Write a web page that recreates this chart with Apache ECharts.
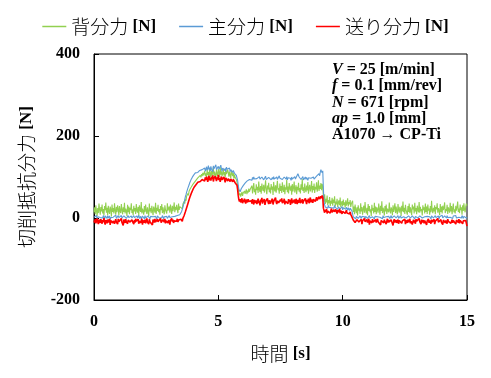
<!DOCTYPE html>
<html><head><meta charset="utf-8">
<script src="https://cdn.jsdelivr.net/npm/echarts@6/dist/echarts.min.js"></script>
<style>html,body{margin:0;padding:0;background:#fff}#c{width:491px;height:378px}</style>
</head><body><div id="c"></div>
<script>
var seriesNames = ['背分力', '主分力', '送り分力'];
var xTicks = [0, 5, 10, 15];
var yTicks = [-200, 0, 200, 400];
var notes = ['V = 25 [m/min]', 'f = 0.1 [mm/rev]', 'N = 671 [rpm]', 'ap = 1.0 [mm]', 'A1070 → CP-Ti'];
var tStart = 0, tEnd = 15;

var green = [
14,26,9,31,18,5,24,12,35,20,
8,27,16,33,11,22,6,29,19,38,
13,25,7,30,17,10,28,21,4,33,
15,24,11,36,19,8,27,14,31,22,
6,29,17,12,34,20,9,26,15,37,
11,23,18,5,32,14,28,9,25,19,
36,12,21,7,30,16,24,10,34,18,
13,27,6,31,20,15,39,11,23,17,
8,29,14,33,19,10,26,22,5,35,
16,24,12,30,18,7,28,21,13,37,
10,25,17,32,14,22,8,29,19,34,
12,26,16,9,31,20,24,11,36,18,
15,28,13,33,21,10,30,17,25,38,
14,27,19,32,22,12,35,20,28,24,
31,
28,22,34,30,40,35,47,42,53,49,
60,55,66,62,72,68,77,73,82,78,
86,83,90,87,94,91,98,95,101,97,
104,99,107,102,110,104,
100,114,103,109,97,118,105,112,101,121,
107,99,115,104,110,124,102,113,106,98,
117,108,103,119,111,100,125,106,114,102,
109,120,104,112,99,116,107,103,118,110,
101,113,105,97,115,108,102,111,96,106,
99,103,94,98,
90,74,62,55,60,52,58,64,54,61,
57,66,59,63,70,58,67,62,72,64,
69,66,
65,79,60,74,85,63,71,57,82,68,
76,61,89,70,64,78,59,84,72,66,
81,62,75,92,67,58,79,70,86,63,
74,60,83,69,77,56,88,71,65,80,
62,76,91,68,73,59,84,66,78,61,
87,70,64,81,58,75,69,93,63,77,
60,85,72,67,79,57,83,65,74,89,
62,71,80,58,76,68,86,64,73,60,
82,69,95,66,75,61,84,70,63,79,
67,88,59,74,81,65,72,90,62,78,
68,84,61,76,70,87,64,73,92,66,
79,71,85,68,83,76,
52,40,58,34,47,38,55,31,44,36,
51,29,42,35,49,30,45,37,53,28,
40,33,47,27,38,43,31,50,26,36,
41,29,45,32,38,25,43,30,36,48,
28,39,33,44,27,35,31,42,
15,28,9,33,20,12,26,6,31,18,
23,10,36,16,27,8,22,30,13,39,
19,11,25,7,34,17,29,14,21,5,
32,18,24,11,37,15,28,9,26,20,
13,35,22,8,30,17,41,12,25,19,
6,29,16,33,10,23,27,14,38,18,
11,26,21,7,31,15,24,36,12,28,
17,9,34,20,13,27,22,5,30,16,
40,14,25,10,32,19,23,8,29,15,
35,12,26,18,7,33,21,28,11,37,
16,24,9,30,20,14,39,13,27,17,
22,6,31,19,26,11,35,15,28,10,
33,18,23,8,29,14,42,20,12,25,
16,31,9,27,21,36,13,24,18,7,
34,15,28,11,30,19,25,38,12,22,
17,32,10,26,20,13,37,16,29,9,
24,35,14,21,11,30,18,27,40,15,
23,12,33,19,26,8,31,17,36,21,
14,28,35,30
];

var blue = [
2,-2,5,0,6,-3,3,1,7,-1,
1,4,-2,3,0,6,2,-3,5,1,
3,-1,6,0,2,5,-4,1,4,0,
3,2,-2,5,1,7,-1,3,0,6,
1,4,-2,2,6,0,3,-3,5,1,
4,2,-1,3,0,6,1,-2,4,2,
5,0,3,-2,6,1,4,-1,2,5,
0,3,7,-1,2,4,-3,1,5,2,
3,-2,6,0,4,1,-1,5,2,3,
-2,4,1,6,0,3,-1,5,2,4,
1,-3,5,2,7,0,3,-1,4,1,
6,2,-2,3,1,5,0,4,-1,3,
2,6,1,4,0,5,3,7,2,6,
4,8,5,7,6,9,7,10,8,11,
12,
16,20,26,32,39,45,52,57,63,68,
73,77,81,86,89,93,96,99,101,104,
106,108,110,109,112,113,111,115,114,116,
113,117,115,118,116,119,
117,122,114,120,125,116,121,128,118,123,
115,126,119,122,113,127,120,117,124,130,
118,121,115,126,119,123,116,129,120,114,
122,118,125,116,121,113,124,119,115,120,
117,122,113,118,115,119,111,116,112,109,
113,107,104,100,
92,80,70,66,64,68,72,70,76,79,
82,80,85,88,86,90,89,93,91,94,
92,96,
96,92,99,94,100,95,97,91,99,96,
94,98,93,101,95,97,92,100,96,99,
93,97,95,102,94,98,96,91,99,95,
97,100,93,96,99,94,101,95,98,92,
96,100,94,98,95,103,97,93,99,96,
94,98,92,100,96,97,95,101,93,98,
96,94,99,97,92,100,95,98,94,97,
101,95,98,93,97,108,112,100,96,99,
94,98,95,101,93,97,96,100,94,99,
95,92,98,96,101,94,97,99,93,96,
100,95,98,94,97,102,99,104,100,108,
103,112,118,121,110,115,
70,40,32,27,30,25,29,24,31,26,
28,23,30,25,27,22,29,24,31,26,
23,28,25,21,27,24,29,22,26,23,
28,20,25,22,27,24,21,26,23,19,
25,22,18,24,20,23,17,21,
3,0,5,1,-2,4,2,6,-1,3,
0,5,2,-1,4,1,6,0,3,-2,
4,2,5,-1,3,1,6,0,2,4,
-1,3,5,1,-2,4,2,0,6,3,
1,-1,4,2,5,0,3,-2,6,1,
4,2,-1,3,0,5,2,4,1,-1,
3,6,0,2,4,-2,5,1,3,0,
4,2,6,-1,3,1,5,0,2,4,
-1,3,1,6,2,0,4,3,-2,5,
2,4,0,3,-1,5,1,6,2,-2,
4,1,3,7,0,2,-1,5,3,1,
6,0,4,2,-2,3,5,1,-1,4,
2,6,0,3,1,-2,5,2,4,0,
3,-1,6,1,4,2,0,5,-2,3,
1,4,2,7,0,3,-1,5,2,4,
0,6,1,3,-2,4,2,5,0,3,
-1,5,2,4,1,6,0,3,-2,4,
2,5,1,3,0,6,2,-1,4,1,
3,5,0,2
];

var red = [
-6,-11,-3,-13,-7,-1,-9,-15,-4,-8,
-12,-3,-7,-14,-5,-10,0,-11,-16,-5,
-8,-13,-4,-7,-11,-2,-17,-6,-9,-3,
-12,-7,-4,-14,-8,-3,-10,-6,-15,-2,
-9,-7,-13,-5,-1,-11,-8,-18,-4,-6,
-12,-3,-9,-7,-14,-5,-8,-1,-10,-6,
-13,-4,-9,-7,-15,-5,-11,-2,-8,-6,
-10,-3,-14,-7,-5,-12,-9,-2,-16,-6,
-8,-11,-4,-13,-7,-1,-10,-6,-15,-3,
-9,-12,-5,-8,-17,-4,-7,-11,-2,-10,
-6,-14,-3,-9,-7,-12,-5,-1,-11,-8,
-15,-4,-6,-10,-2,-13,-7,-9,-3,-12,
-5,-8,-16,-6,-10,-1,-9,-4,-12,-7,
-3,-11,-6,-8,-2,-10,-5,-7,-1,-4,
-3,
-4,-8,-1,2,6,10,15,19,25,29,
35,39,45,48,54,57,62,64,69,71,
75,73,79,81,84,82,87,88,86,90,
89,92,90,94,91,93,
96,90,99,93,101,94,88,97,103,92,
98,91,100,95,104,89,97,93,102,96,
90,99,94,105,92,98,88,96,101,93,
97,91,100,94,87,98,95,102,90,96,
93,99,89,95,91,97,88,94,90,92,
86,89,83,80,
70,55,45,40,46,38,43,48,36,44,
39,47,41,35,45,42,38,46,40,43,
37,44,
42,35,46,38,33,44,48,37,43,34,
40,47,36,42,31,45,39,49,35,41,
38,46,32,40,44,36,48,39,34,43,
45,35,41,37,47,33,40,44,36,50,
39,34,42,46,37,41,35,45,40,48,
36,43,38,47,33,41,45,37,42,35,
46,39,44,32,40,48,36,43,38,45,
41,35,47,39,34,44,37,42,49,36,
43,38,46,35,41,45,37,48,40,34,
44,39,47,36,42,50,38,45,41,37,
46,42,49,40,44,51,43,47,45,52,
46,49,53,48,55,50,
24,18,13,20,15,22,11,17,21,14,
19,12,16,23,14,18,10,20,15,13,
21,16,11,19,14,17,22,12,18,15,
10,16,20,13,17,11,15,19,12,14,
8,13,10,15,9,12,7,11,
-5,-9,-3,-11,-7,-14,-4,-8,-2,-10,
-6,-12,-8,-3,-15,-7,-5,-10,-1,-9,
-13,-6,-4,-11,-8,-2,-16,-7,-9,-5,
-12,-3,-10,-6,-14,-8,-4,-11,-7,-2,
-9,-13,-5,-8,-17,-6,-3,-10,-7,-12,
-4,-9,-6,-15,-8,-2,-11,-5,-10,-7,
-13,-4,-9,-6,-18,-8,-3,-11,-7,-5,
-12,-9,-4,-14,-6,-10,-2,-8,-13,-7,
-5,-11,-9,-3,-15,-6,-8,-12,-4,-10,
-7,-2,-13,-8,-5,-16,-9,-4,-11,-6,
-14,-3,-8,-10,-6,-12,-1,-9,-7,-15,
-4,-11,-8,-5,-13,-6,-10,-3,-17,-7,
-9,-2,-12,-6,-8,-14,-4,-10,-7,-11,
-3,-15,-8,-5,-12,-9,-1,-10,-6,-13,
-7,-4,-11,-8,-16,-5,-9,-2,-12,-6,
-10,-14,-3,-8,-7,-11,-5,-13,-9,-4,
-12,-6,-2,-10,-8,-15,-5,-9,-7,-11,
-3,-13,-6,-10,-4,-8,-14,-7,-9,-5,
-11,-6,-9,-20
];

// samples are evenly spaced over the recording
function pairs(arr){
  var dt = (tEnd - tStart) / (arr.length - 1);
  return arr.map(function(v,i){ return [tStart + i*dt, v]; });
}

var serif = '"Liberation Serif","Times New Roman",serif';
var cjk = '"Noto Sans CJK JP","Noto Sans",sans-serif';
var chart = echarts.init(document.getElementById('c'), null, {renderer:'canvas'});

function noteRich(s){
  var m = s.match(/^(V|f|N|ap)( .*)$/);
  if (m) return '{i|' + m[1] + '}{b|' + m[2] + '}';
  return '{b|' + s + '}';
}
var richNote = {
  i:{fontFamily:serif, fontWeight:'bold', fontStyle:'italic', fontSize:16, lineHeight:16, fill:'#000'},
  b:{fontFamily:serif, fontWeight:'bold', fontSize:16, lineHeight:16, fill:'#000'}
};
var graphics = notes.map(function(s, k){
  return {type:'text', left:332, top:62 + k*16.3, z:100, style:{text:noteRich(s), rich:richNote, fill:'#000'}};
});

var lineColors = ['#92d050', '#5b9bd5', '#ff0000'];
var widths = [1.1, 1.1, 1.6];
var datas = [green, blue, red];
var nameRich = {
  a:{fontFamily:cjk, fontWeight:300, fontSize:19, color:'#000'},
  b:{fontFamily:serif, fontWeight:'bold', fontSize:17, color:'#000'}
};

chart.setOption({
  animation:false,
  backgroundColor:'#fff',
  grid:{left:94, right:24, top:54, bottom:78, show:true, borderColor:'#000', borderWidth:1, backgroundColor:'transparent'},
  legend:{
    top:12, left:'center', itemWidth:24, itemHeight:1.5, itemGap:23, icon:'rect',
    data:seriesNames,
    formatter:function(n){ return '{a|' + n + ' }{b|[N]}'; },
    textStyle:{rich:nameRich}
  },
  xAxis:{
    type:'value', min:0, max:15, interval:5,
    name:'{a|時間 }{b|[s]}', nameLocation:'middle', nameGap:44,
    nameTextStyle:{rich:nameRich},
    axisLine:{onZero:false, lineStyle:{color:'#000', width:1}},
    axisTick:{inside:true, length:5, lineStyle:{color:'#000'}},
    axisLabel:{margin:14, fontFamily:serif, fontWeight:'bold', fontSize:16, color:'#000',
      formatter:function(v){ return xTicks.indexOf(v) >= 0 ? String(v) : ''; }},
    splitLine:{show:false}
  },
  yAxis:{
    type:'value', min:-200, max:400, interval:200,
    name:'{a|切削抵抗分力 }{b|[N]}', nameLocation:'middle', nameRotate:90, nameGap:58,
    nameTextStyle:{rich:nameRich},
    axisLine:{show:true, onZero:false, lineStyle:{color:'#000', width:1}},
    axisTick:{show:true, inside:true, length:5, lineStyle:{color:'#000'}},
    axisLabel:{margin:14, fontFamily:serif, fontWeight:'bold', fontSize:16, color:'#000',
      formatter:function(v){ return yTicks.indexOf(v) >= 0 ? String(v) : ''; }},
    splitLine:{show:false}
  },
  graphic:graphics,
  series:datas.map(function(d, k){
    return {
      name:seriesNames[k], type:'line', data:pairs(d), symbol:'none', showSymbol:false,
      sampling:null, z:2+k,
      lineStyle:{color:lineColors[k], width:widths[k]},
      itemStyle:{color:lineColors[k]}
    };
  })
});
</script></body></html>
